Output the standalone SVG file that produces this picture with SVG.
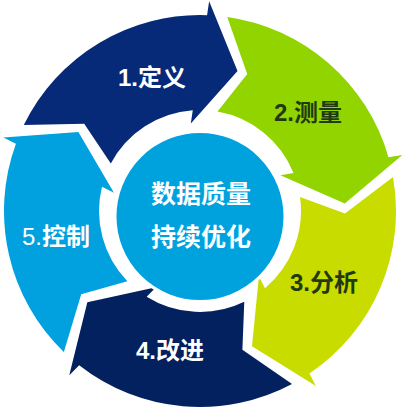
<svg xmlns="http://www.w3.org/2000/svg" xmlns:xlink="http://www.w3.org/1999/xlink" width="403" height="410" viewBox="0 0 403 410">
  <style>
    .lbl { font-family: "Liberation Sans", "Noto Sans CJK SC", sans-serif; font-weight: bold; font-size: 24px; text-anchor: middle; }
    .ctr { font-family: "Liberation Sans", "Noto Sans CJK SC", sans-serif; font-weight: bold; font-size: 25px; text-anchor: middle; fill: #ffffff; }
    .w { fill: #ffffff; }
    .d { fill: #1f3a10; }
  </style>
  <defs>
    <path id="arrow" d="M23.8,125.1 A196,196 0 0,1 207.07,15.14 L209.16,1.2 L237.5,70.94 L190.8,123.5 L192.78,110.3 A101,101 0 0,0 110.82,163.58 L84.2,123.74 Z"/>
  </defs>
  <rect width="403" height="410" fill="#ffffff"/>
  <g id="connectors"></g>
  <g id="step1">
    <use xlink:href="#arrow" href="#arrow" fill="#062a78"/>
    <text class="lbl w" x="152" y="86">1.定义</text>
  </g>
  <g id="step2">
    <use xlink:href="#arrow" href="#arrow" fill="#92d400" transform="rotate(72 200 211)"/>
    <text class="lbl d" x="308" y="121">2.测量</text>
  </g>
  <g id="step3">
    <use xlink:href="#arrow" href="#arrow" fill="#c9dc00" transform="rotate(144 200 211)"/>
    <text class="lbl d" x="324" y="291">3.分析</text>
  </g>
  <g id="step4">
    <use xlink:href="#arrow" href="#arrow" fill="#03205f" transform="rotate(216 200 211)"/>
    <text class="lbl w" x="170" y="359">4.改进</text>
  </g>
  <g id="step5">
    <use xlink:href="#arrow" href="#arrow" fill="#00a1de" transform="rotate(288 200 211)"/>
    <text class="lbl w" x="56" y="245"><tspan font-weight="normal">5.</tspan>控制</text>
  </g>
  <g id="center">
    <circle cx="200" cy="216.5" r="85" fill="#00a2de" stroke="#ffffff" stroke-width="3"/>
    <text class="ctr" x="201" y="203">数据质量</text>
    <text class="ctr" x="201" y="246">持续优化</text>
  </g>
</svg>
